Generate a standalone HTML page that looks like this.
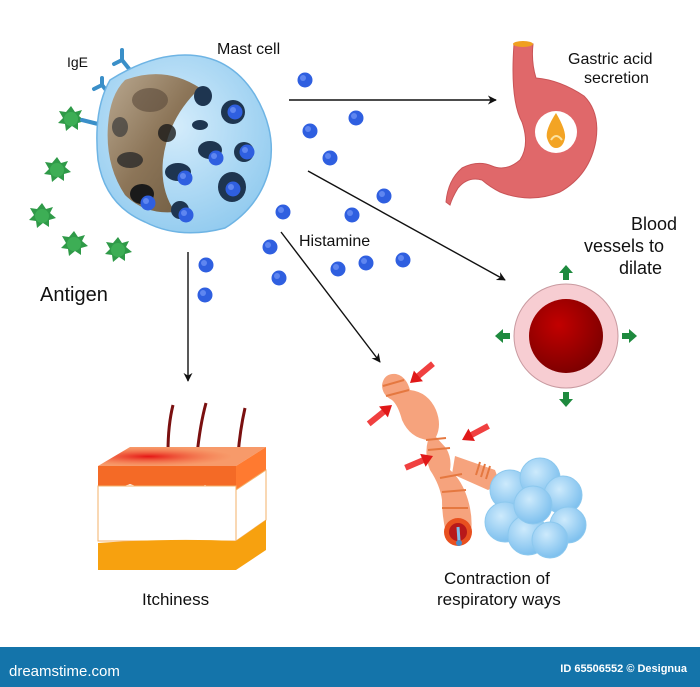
<!DOCTYPE html>
<html><head><meta charset="utf-8"><style>
html,body{margin:0;padding:0;background:#fff;}
svg{display:block;font-family:"Liberation Sans","DejaVu Sans",sans-serif;}
</style></head><body>
<svg width="700" height="687" viewBox="0 0 700 687" xmlns="http://www.w3.org/2000/svg">
<defs>
<marker id="ar" viewBox="0 0 10 10" refX="9" refY="5" markerWidth="9" markerHeight="9" orient="auto" markerUnits="userSpaceOnUse"><path d="M0,0 L10,5 L0,10 L3,5 z" fill="#111"/></marker>
<radialGradient id="cell" cx="0.45" cy="0.4" r="0.7"><stop offset="0" stop-color="#d4ecfb"/><stop offset="1" stop-color="#8cc8ee"/></radialGradient>
<linearGradient id="nuc" x1="0" y1="0" x2="1" y2="1"><stop offset="0" stop-color="#b9a890"/><stop offset="0.5" stop-color="#8c7558"/><stop offset="1" stop-color="#6d5a40"/></linearGradient>
<radialGradient id="blood" cx="0.4" cy="0.35" r="0.7"><stop offset="0" stop-color="#c20000"/><stop offset="1" stop-color="#7a0000"/></radialGradient>
<radialGradient id="alv" cx="0.4" cy="0.35" r="0.65"><stop offset="0" stop-color="#cdeafc"/><stop offset="1" stop-color="#7ec0ee"/></radialGradient>
<radialGradient id="red" cx="0.3" cy="0.5" r="0.5"><stop offset="0" stop-color="#e51515"/><stop offset="1" stop-color="#f46a3c" stop-opacity="0"/></radialGradient>
<g id="ag"><polygon points="0,-13 4,-7 11,-9 8,-3 14,2 7,4 7,11 1,7 -5,12 -6,5 -13,4 -8,-1 -12,-8 -5,-7" fill="#2f9a48"/><circle r="7" fill="#3dae55"/></g>
<g id="hb"><circle r="7.5" fill="#2f5fe0"/><circle cx="-2" cy="-2" r="3" fill="#5f86f0"/></g>
<g id="rarr"><path d="M-30,0 L-8,0" stroke="#f04040" stroke-width="6"/><polygon points="-11,-7 0,0 -11,7" fill="#e01818"/></g>
<g id="garr"><rect x="-5" y="-3" width="7" height="6" fill="#1e8a3e"/><polygon points="2,-7 10,0 2,7" fill="#1e8a3e"/></g>
</defs>

<use href="#ag" x="71" y="119"/>
<use href="#ag" x="57" y="170"/>
<use href="#ag" x="42" y="216"/>
<use href="#ag" x="74" y="244"/>
<use href="#ag" x="118" y="250"/>

<g stroke="#3a8fc8" stroke-width="4" fill="none" stroke-linecap="round">
<path d="M130,70 L122,60 M122,60 L114,64 M122,60 L122,50"/>
<path d="M110,95 L102,85 M102,85 L94,89 M102,85 L102,78"/>
<path d="M82,120 L98,124"/>
</g>

<path d="M110,80 Q150,55 185,55 Q230,55 255,95 Q276,130 270,165 Q262,205 225,228 Q180,240 145,222 Q105,205 98,160 Q93,110 110,80 z" fill="url(#cell)" stroke="#6eb4e4" stroke-width="1.5"/>
<path d="M125,80 Q165,65 200,88 Q168,118 163,160 Q160,190 175,212 Q145,215 125,195 Q105,165 108,125 Q110,95 125,80 z" fill="url(#nuc)"/>
<ellipse cx="150" cy="100" rx="18" ry="12" fill="#5a4a3a" opacity="0.6"/>
<ellipse cx="120" cy="127" rx="8" ry="10" fill="#3a3a3a" opacity="0.7"/>
<ellipse cx="130" cy="160" rx="13" ry="8" fill="#2a2a2a" opacity="0.8"/>
<ellipse cx="142" cy="194" rx="12" ry="10" fill="#1a1a1a"/>
<ellipse cx="203" cy="96" rx="9" ry="10" fill="#1e3550"/>
<ellipse cx="233" cy="112" rx="12" ry="12" fill="#1e3550"/>
<ellipse cx="200" cy="125" rx="8" ry="5" fill="#1e3550"/>
<ellipse cx="210" cy="150" rx="12" ry="9" fill="#1e3550"/>
<ellipse cx="244" cy="152" rx="10" ry="10" fill="#1e3550"/>
<ellipse cx="178" cy="172" rx="13" ry="9" fill="#1e3550"/>
<ellipse cx="232" cy="187" rx="14" ry="15" fill="#1e3550"/>
<ellipse cx="180" cy="210" rx="9" ry="9" fill="#1e3550"/>
<ellipse cx="167" cy="133" rx="9" ry="9" fill="#1a1a1a" opacity="0.8"/>
<use href="#hb" x="235" y="112"/><use href="#hb" x="216" y="158"/><use href="#hb" x="247" y="152"/>
<use href="#hb" x="185" y="178"/><use href="#hb" x="233" y="189"/><use href="#hb" x="148" y="203"/><use href="#hb" x="186" y="215"/>

<use href="#hb" x="305" y="80"/><use href="#hb" x="310" y="131"/><use href="#hb" x="356" y="118"/>
<use href="#hb" x="330" y="158"/><use href="#hb" x="384" y="196"/><use href="#hb" x="283" y="212"/>
<use href="#hb" x="352" y="215"/><use href="#hb" x="270" y="247"/><use href="#hb" x="279" y="278"/>
<use href="#hb" x="338" y="269"/><use href="#hb" x="366" y="263"/><use href="#hb" x="403" y="260"/>
<use href="#hb" x="206" y="265"/><use href="#hb" x="205" y="295"/>

<g stroke="#111" stroke-width="1.4" fill="none" marker-end="url(#ar)">
<line x1="289" y1="100" x2="496" y2="100"/>
<line x1="308" y1="171" x2="505" y2="280"/>
<line x1="281" y1="232" x2="380" y2="362"/>
<line x1="188" y1="252" x2="188" y2="381"/>
</g>

<g fill="#111">
<text x="67" y="67" font-size="14">IgE</text>
<text x="217" y="54" font-size="16">Mast cell</text>
<text x="40" y="301" font-size="20">Antigen</text>
<text x="299" y="246" font-size="16">Histamine</text>
<text x="568" y="64" font-size="16">Gastric acid</text>
<text x="584" y="83" font-size="16">secretion</text>
<text x="677" y="230" font-size="18" text-anchor="end">Blood</text>
<text x="584" y="252" font-size="18">vessels to</text>
<text x="619" y="274" font-size="18">dilate</text>
<text x="142" y="605" font-size="17">Itchiness</text>
<text x="444" y="584" font-size="17">Contraction of</text>
<text x="437" y="605" font-size="17">respiratory ways</text>
</g>

<path d="M514,44 L533,44 Q531,62 536,78 Q560,80 584,96 Q600,112 596,140 Q590,175 560,192 Q530,204 500,192 Q490,187 482,180 Q468,176 458,188 Q452,198 450,205 L446,202 Q448,180 462,168 Q478,160 492,166 Q506,172 520,160 Q530,145 522,122 Q510,100 514,44 z" fill="#e0686a" stroke="#c95457" stroke-width="1"/>
<ellipse cx="523" cy="44" rx="10" ry="3" fill="#f0a020"/>
<circle cx="556" cy="132" r="21" fill="#fff"/>
<path d="M556,113 Q545,130 547,138 Q550,148 556,148 Q563,148 565,138 Q566,130 556,113 z" fill="#f3a424"/>
<path d="M551,140 Q556,132 562,140" stroke="#fbe2a0" stroke-width="2" fill="none"/>

<circle cx="566" cy="336" r="52" fill="#f7cdd2" stroke="#c89aa0"/>
<circle cx="566" cy="336" r="37" fill="url(#blood)"/>
<use href="#garr" x="627" y="336"/>
<use href="#garr" x="505" y="336" transform="rotate(180 505 336)"/>
<use href="#garr" x="566" y="397" transform="rotate(90 566 397)"/>
<use href="#garr" x="566" y="275" transform="rotate(-90 566 275)"/>

<path d="M206,403 Q200,425 197,455 M245,408 Q240,430 238,455 M173,405 Q168,425 168,452" stroke="#7a1010" stroke-width="3" fill="none"/>
<polygon points="98,466 130,447 266,447 236,466" fill="#f79a6a"/>
<polygon points="98,466 130,447 266,447 236,466" fill="url(#red)"/>
<polygon points="236,466 266,447 266,470 236,490" fill="#ff7a30"/>
<path d="M98,466 L236,466 L236,488 Q220,492 205,485 Q190,493 180,486 Q170,495 160,486 Q145,490 130,484 Q115,490 98,486 z" fill="#f46a26"/>
<rect x="98" y="486" width="138" height="55" fill="#fff" stroke="#f3b26a" stroke-width="1"/>
<polygon points="236,490 266,470 266,520 236,541" fill="#fff" stroke="#f3b26a" stroke-width="1"/>
<path d="M98,543 Q170,538 236,541 L266,520 L266,550 L236,570 L98,570 z" fill="#f7a10f"/>

<!-- bronchus -->
<g fill="#f6a37d">
<path d="M455,456 L495,470 L500,484 L488,490 L452,474 z"/>
<path d="M382,385 Q384,373 396,374 Q406,376 410,390 Q428,392 436,410 Q442,425 436,437 L446,448 Q452,458 450,470 Q462,480 468,500 Q474,520 470,540 L448,540 Q442,520 442,500 Q440,485 430,470 Q424,455 428,440 Q410,438 402,420 Q398,405 392,400 Q382,395 382,385 z"/>
</g>
<g stroke="#e57840" stroke-width="2" fill="none">
<path d="M383,386 L404,380 M386,396 L409,390 M426,440 L446,438 M428,450 L450,448 M440,478 L462,474 M442,492 L466,490 M442,508 L468,508 M480,462 L476,475 M485,464 L481,477 M490,466 L486,479"/>
</g>
<ellipse cx="458" cy="532" rx="14" ry="14" fill="#e8501f"/>
<circle cx="458" cy="532" r="9" fill="#b8181a"/>
<path d="M458,527 L459,541" stroke="#7fbbe8" stroke-width="3"/>
<circle cx="459" cy="543" r="3" fill="#4a8cc8"/>
<use href="#rarr" transform="translate(410,383) rotate(140)"/>
<use href="#rarr" transform="translate(392,405) rotate(-39)"/>
<use href="#rarr" transform="translate(462,440) rotate(152)"/>
<use href="#rarr" transform="translate(433,456) rotate(-23)"/>

<g fill="url(#alv)" stroke="#8cc8ee" stroke-width="1">
<circle cx="510" cy="490" r="20"/><circle cx="540" cy="478" r="20"/><circle cx="563" cy="495" r="19"/>
<circle cx="505" cy="522" r="20"/><circle cx="568" cy="525" r="18"/><circle cx="528" cy="535" r="20"/>
<circle cx="550" cy="540" r="18"/><circle cx="533" cy="505" r="19"/>
</g>

<rect x="0" y="647" width="700" height="40" fill="#1474aa"/>
<text x="9" y="676" font-size="15" fill="#fff">dreamstime.com</text>
<text x="687" y="672" font-size="11" fill="#fff" font-weight="bold" text-anchor="end">ID 65506552 © Designua</text>
</svg>
</body></html>
